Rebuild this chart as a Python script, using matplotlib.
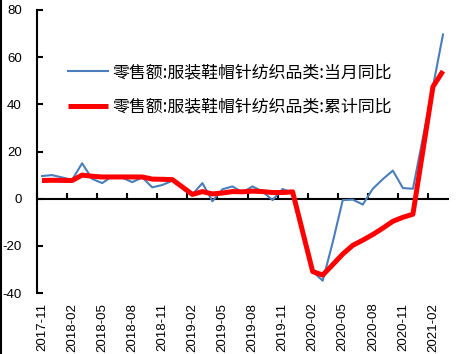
import numpy as np
import pandas as pd
import matplotlib
matplotlib.use("Agg")
import matplotlib.pyplot as plt
from matplotlib.lines import Line2D

months = ["2017-11", "2017-12",
          "2018-01", "2018-02", "2018-03", "2018-04", "2018-05", "2018-06",
          "2018-07", "2018-08", "2018-09", "2018-10", "2018-11", "2018-12",
          "2019-01", "2019-02", "2019-03", "2019-04", "2019-05", "2019-06",
          "2019-07", "2019-08", "2019-09", "2019-10", "2019-11", "2019-12",
          "2020-01", "2020-02", "2020-03", "2020-04", "2020-05", "2020-06",
          "2020-07", "2020-08", "2020-09", "2020-10", "2020-11", "2020-12",
          "2021-01", "2021-02", "2021-03"]

nan = np.nan
monthly_yoy = [9.6, 10.0,
               nan, 8.0, 15.0, 8.4, 6.6, 9.5,
               8.9, 7.0, 9.0, 4.8, 5.8, 7.6,
               nan, 1.8, 6.6, -1.1, 4.0, 5.2,
               2.6, 5.2, 3.0, -0.6, 4.1, 2.4,
               nan, -30.9, -34.8, -18.5, -0.6, -0.4,
               -2.5, 4.2, 8.3, 11.9, 4.5, 4.2,
               nan, 47.5, 69.6]

cumulative_yoy = [7.7, 7.8,
                  nan, 7.7, 10.0, 9.5, 9.2, 9.2,
                  9.2, 9.2, 9.2, 8.3, 8.2, 8.1,
                  nan, 1.8, 3.0, 2.0, 2.4, 3.0,
                  2.9, 3.2, 3.0, 2.6, 2.6, 2.9,
                  nan, -30.9, -32.4, -28.0, -23.5, -19.8,
                  -17.6, -15.2, -12.5, -9.6, -7.9, -6.6,
                  nan, 47.5, 54.1]

label_monthly = "零售额:服装鞋帽针纺织品类:当月同比"
label_cum = "零售额:服装鞋帽针纺织品类:累计同比"

y_ticks = [-40, -20, 0, 20, 40, 60, 80]

plt.rcParams['font.family'] = ['Liberation Sans', 'DejaVu Sans']

fig = plt.figure(figsize=(4.73, 3.54), dpi=100)
ax = fig.add_axes([37/473, 1-293/354, (448-37)/473, (293-10)/354])

s1 = pd.Series(monthly_yoy, index=np.arange(len(months))).dropna()
s2 = pd.Series(cumulative_yoy, index=np.arange(len(months))).dropna()

ax.plot(s1.index, s1.values, color="#4A7EBB", lw=1.5, label=label_monthly, zorder=3)
ax.plot(s2.index, s2.values, color="#FF0000", lw=3.6, label=label_cum, zorder=4,
        solid_joinstyle='round', solid_capstyle='butt')

ax.set_xlim(-0.5, len(months) - 0.5)
ax.set_ylim(-40, 80)
ax.set_yticks(y_ticks)
ax.set_yticklabels([str(v) for v in y_ticks])

for sp in ['top', 'right']:
    ax.spines[sp].set_visible(False)
ax.spines['left'].set_linewidth(1.5)
ax.spines['bottom'].set_position(('data', 0))
ax.spines['bottom'].set_linewidth(1.5)

ax.tick_params(axis='y', direction='in', length=4, width=1.5, labelsize=9.5, pad=11)
ax.set_xticks(np.arange(-0.5, len(months) - 0.5, 3))
ax.tick_params(axis='x', direction='in', length=4, width=1.5, labelbottom=False)

sec = ax.secondary_xaxis(0.0)
idx = np.arange(0, len(months), 3)
sec.set_xticks(idx)
sec.set_xticklabels([months[i] for i in idx], rotation=90)
sec.tick_params(axis='x', length=0, labelsize=9.5, pad=7)
sec.spines['bottom'].set_visible(False)

leg = ax.legend(loc='upper left', bbox_to_anchor=(31/411, 1 - 53/283), frameon=False,
                prop={'family': ['Noto Sans CJK SC', 'DejaVu Sans'], 'size': 12.2},
                handlelength=2.35, handletextpad=0.3, labelspacing=0.98, borderaxespad=0,
                borderpad=0)

fig.add_artist(Line2D([0.0015, 0.0015], [0, 1], transform=fig.transFigure, color='black', lw=1.5))

fig.savefig("out.png", dpi=100)
